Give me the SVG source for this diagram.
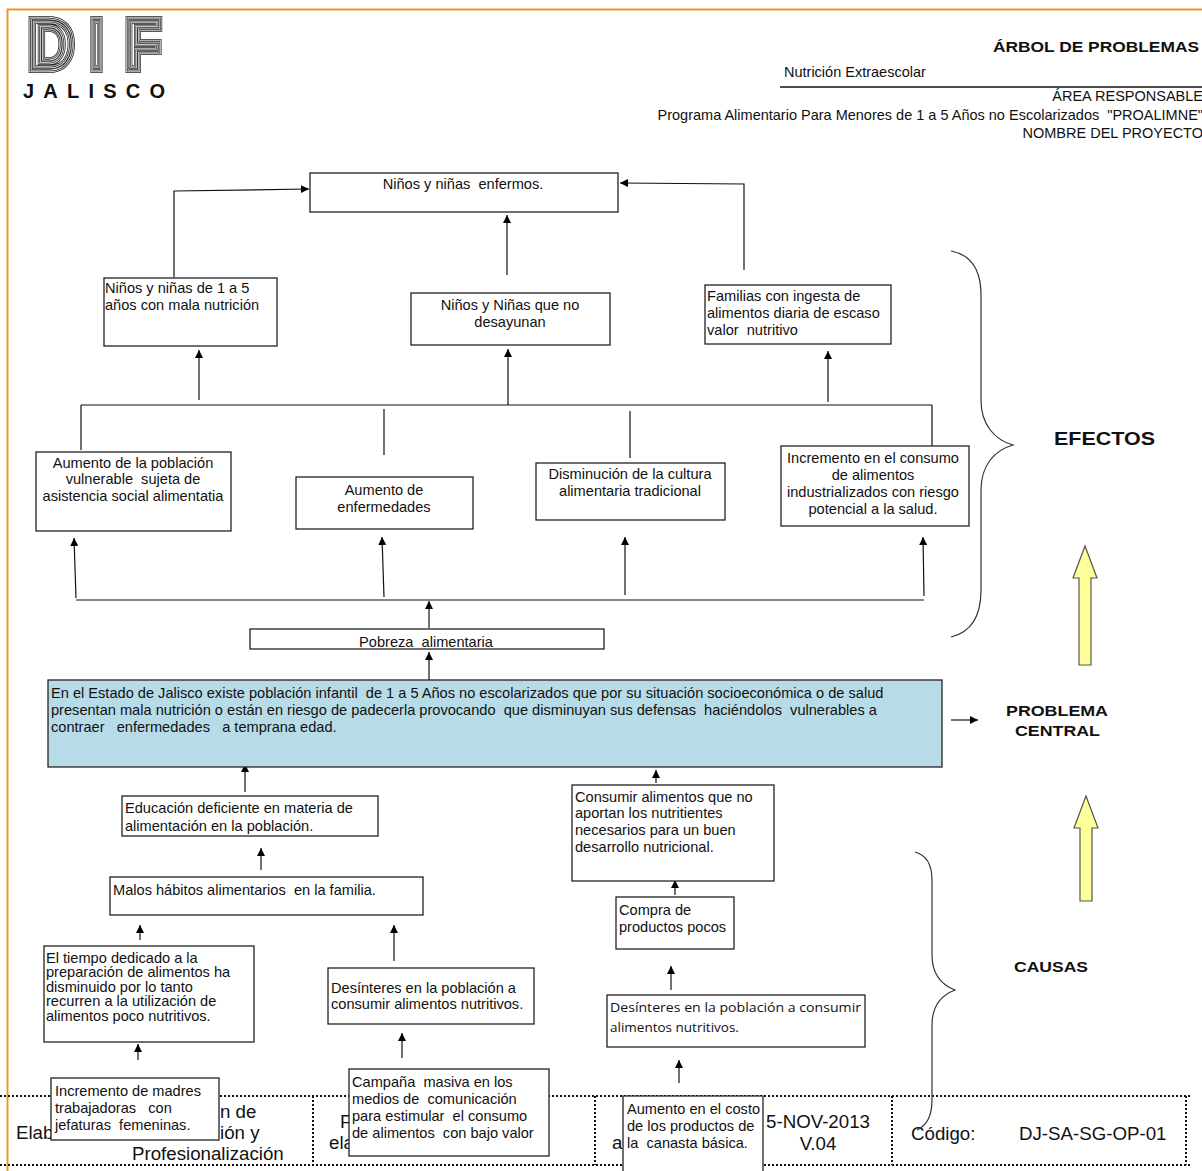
<svg xmlns="http://www.w3.org/2000/svg" width="1202" height="1171" viewBox="0 0 1202 1171">
<defs>
<marker id="ah" markerUnits="userSpaceOnUse" markerWidth="10" markerHeight="10" refX="8" refY="4" orient="auto"><path d="M0,0L8,4L0,8Z" fill="#000"/></marker>
</defs>
<style>
text{font-family:"Liberation Sans",Arial,sans-serif;fill:#111;white-space:pre}
.n{font-size:14.6px;transform:translateY(1px)}
.m{text-anchor:middle}
.b{fill:#fff;stroke:#222;stroke-width:1.3}
.c{fill:none;stroke:#111;stroke-width:1.2}
.a{marker-end:url(#ah)}
.h{font-size:14.5px}
.e{text-anchor:end}
.f{font-size:18.7px}
.t{font-weight:bold}
.d{fill:none;stroke:#111;stroke-width:2;stroke-dasharray:2 2}
.y{fill:#FFFF99;stroke:#555;stroke-width:1.2}
.br{fill:none;stroke:#333;stroke-width:1.2}
.l{font-size:70px;font-weight:bold;fill:none;stroke-linejoin:miter}
.l1{stroke:#222;stroke-width:8}
.l2{stroke:#ddd;stroke-width:6.4}
.l3{stroke:#222;stroke-width:4.6}
.l4{stroke:#eee;stroke-width:3}
.l5{stroke:#333;stroke-width:1.3}
.o{font-family:"Open Sans",sans-serif;font-size:13.5px}
</style>
<rect width="1202" height="1171" fill="#fff"/>
<g id="frame"><path d="M1202,9.5H7.5V1171" fill="none" stroke="#E59A24" stroke-width="2"/></g>
<g id="logo">
<text class="l l1" x="28" y="69" textLength="46" lengthAdjust="spacingAndGlyphs">D</text>
<text class="l l2" x="28" y="69" textLength="46" lengthAdjust="spacingAndGlyphs">D</text>
<text class="l l3" x="28" y="69" textLength="46" lengthAdjust="spacingAndGlyphs">D</text>
<text class="l l4" x="28" y="69" textLength="46" lengthAdjust="spacingAndGlyphs">D</text>
<text class="l l5" x="28" y="69" textLength="46" lengthAdjust="spacingAndGlyphs">D</text>
<text class="l l1" x="90" y="69" textLength="13" lengthAdjust="spacingAndGlyphs">I</text>
<text class="l l2" x="90" y="69" textLength="13" lengthAdjust="spacingAndGlyphs">I</text>
<text class="l l3" x="90" y="69" textLength="13" lengthAdjust="spacingAndGlyphs">I</text>
<text class="l l4" x="90" y="69" textLength="13" lengthAdjust="spacingAndGlyphs">I</text>
<text class="l l5" x="90" y="69" textLength="13" lengthAdjust="spacingAndGlyphs">I</text>
<text class="l l1" x="125" y="69" textLength="36" lengthAdjust="spacingAndGlyphs">F</text>
<text class="l l2" x="125" y="69" textLength="36" lengthAdjust="spacingAndGlyphs">F</text>
<text class="l l3" x="125" y="69" textLength="36" lengthAdjust="spacingAndGlyphs">F</text>
<text class="l l4" x="125" y="69" textLength="36" lengthAdjust="spacingAndGlyphs">F</text>
<text class="l l5" x="125" y="69" textLength="36" lengthAdjust="spacingAndGlyphs">F</text>
<text x="23" y="98" font-size="20" font-weight="bold" textLength="142">JALISCO</text>
</g>
<g id="header">
<text class="t" x="993" y="52" font-size="15" textLength="206" lengthAdjust="spacingAndGlyphs">ÁRBOL DE PROBLEMAS</text>
<text class="h" x="784" y="77">Nutrición Extraescolar</text>
<path d="M780,87H1202" stroke="#111" stroke-width="1.5"/>
<text class="h e" x="1203" y="101">ÁREA RESPONSABLE</text>
<text class="h e" x="1203" y="120">Programa Alimentario Para Menores de 1 a 5 Años no Escolarizados  "PROALIMNE"</text>
<text class="h e" x="1203" y="138">NOMBRE DEL PROYECTO</text>
</g>
<g id="footer">
<path class="d" d="M0,1096H1190M0,1165H1190M313,1096V1165M595,1096V1165M892,1096V1165M1186,1096V1165"/>
<text class="f" x="16" y="1139">Elab</text>
<text class="f" x="220" y="1118">n de</text>
<text class="f" x="220" y="1139">ión y</text>
<text class="f" x="132" y="1160">Profesionalización</text>
<text class="f" x="340" y="1128">F</text>
<text class="f" x="329" y="1149">ela</text>
<text class="f" x="612" y="1149">a</text>
<text class="f m" x="818" y="1128">5-NOV-2013</text>
<text class="f m" x="818" y="1150">V.04</text>
<text class="f" x="911" y="1140">Código:</text>
<text class="f" x="1019" y="1140">DJ-SA-SG-OP-01</text>
</g>
<g id="connectors">
<path class="c a" d="M174,277V191L309,189"/>
<path class="c a" d="M507,275V215"/>
<path class="c a" d="M744,270V184L620,183"/>
<path class="c a" d="M199,400V350"/>
<path class="c a" d="M508,405V349"/>
<path class="c a" d="M828,402V351"/>
<path class="c" d="M81,405H932M81,405V450M384,409V455M630,411V458M932,405V447"/>
<path class="c" d="M76,600H924"/>
<path class="c a" d="M76,598L74,538"/>
<path class="c a" d="M384,597L382,537"/>
<path class="c a" d="M625,595V537"/>
<path class="c a" d="M924,596L923,537"/>
<path class="c a" d="M429,628V601"/>
<path class="c a" d="M429,680V652"/>
<path class="c a" d="M245,792V764"/>
<path class="c a" d="M261,870V848"/>
<path class="c a" d="M656,783V770"/>
<path class="c a" d="M140,940V925"/>
<path class="c a" d="M394,961V925"/>
<path class="c a" d="M138,1060V1044"/>
<path class="c a" d="M402,1058V1033"/>
<path class="c a" d="M675,895V880"/>
<path class="c a" d="M671,990V966"/>
<path class="c a" d="M679,1083V1060"/>
<path class="c a" d="M951,720H978"/>
</g>
<g id="n-top"><rect class="b" x="310" y="173" width="308" height="39"/><text class="n m" x="463" y="188">Niños y niñas  enfermos.</text></g>
<g id="n-e1"><rect class="b" x="104" y="278" width="173" height="68"/><text class="n" x="105" y="292">Niños y niñas de 1 a 5</text><text class="n" x="105" y="309">años con mala nutrición</text></g>
<g id="n-e2"><rect class="b" x="411" y="293" width="199" height="52"/><text class="n m" x="510" y="309">Niños y Niñas que no</text><text class="n m" x="510" y="326">desayunan</text></g>
<g id="n-e3"><rect class="b" x="705" y="285" width="186" height="59"/><text class="n" x="707" y="300">Familias con ingesta de</text><text class="n" x="707" y="317">alimentos diaria de escaso</text><text class="n" x="707" y="334">valor  nutritivo</text></g>
<g id="n-a"><rect class="b" x="36" y="452" width="195" height="79"/><text class="n m" x="133" y="467">Aumento de la población</text><text class="n m" x="133" y="483">vulnerable  sujeta de</text><text class="n m" x="133" y="500">asistencia social alimentatia</text></g>
<g id="n-b"><rect class="b" x="296" y="477" width="177" height="52"/><text class="n m" x="384" y="494">Aumento de</text><text class="n m" x="384" y="511">enfermedades</text></g>
<g id="n-c"><rect class="b" x="536" y="463" width="189" height="57"/><text class="n m" x="630" y="478">Disminución de la cultura</text><text class="n m" x="630" y="495">alimentaria tradicional</text></g>
<g id="n-d"><rect class="b" x="781" y="446" width="188" height="80"/><text class="n m" x="873" y="462">Incremento en el consumo</text><text class="n m" x="873" y="479">de alimentos</text><text class="n m" x="873" y="496">industrializados con riesgo</text><text class="n m" x="873" y="513">potencial a la salud.</text></g>
<g id="n-pobreza"><rect class="b" x="250" y="629" width="354" height="20"/><text class="n m" x="426" y="646">Pobreza  alimentaria</text></g>
<g id="n-problema"><rect class="b" x="48" y="680" width="894" height="87" style="fill:#B7DCE8"/><text class="n" x="51" y="697">En el Estado de Jalisco existe población infantil  de 1 a 5 Años no escolarizados que por su situación socioeconómica o de salud</text><text class="n" x="51" y="714">presentan mala nutrición o están en riesgo de padecerla provocando  que disminuyan sus defensas  haciéndolos  vulnerables a</text><text class="n" x="51" y="731">contraer   enfermedades   a temprana edad.</text></g>
<g id="n-edu"><rect class="b" x="122" y="796" width="256" height="40"/><text class="n" x="125" y="812">Educación deficiente en materia de</text><text class="n" x="125" y="830">alimentación en la población.</text></g>
<g id="n-malos"><rect class="b" x="110" y="877" width="313" height="38"/><text class="n" x="113" y="894">Malos hábitos alimentarios  en la familia.</text></g>
<g id="n-tiempo"><rect class="b" x="44" y="946" width="210" height="96"/><text class="n" x="46" y="962">El tiempo dedicado a la</text><text class="n" x="46" y="976">preparación de alimentos ha</text><text class="n" x="46" y="991">disminuido por lo tanto</text><text class="n" x="46" y="1005">recurren a la utilización de</text><text class="n" x="46" y="1020">alimentos poco nutritivos.</text></g>
<g id="n-des1"><rect class="b" x="328" y="968" width="206" height="56"/><text class="n" x="331" y="992">Desínteres en la población a</text><text class="n" x="331" y="1008">consumir alimentos nutritivos.</text></g>
<g id="n-madres"><rect class="b" x="51" y="1078" width="168" height="62"/><text class="n" x="55" y="1095">Incremento de madres</text><text class="n" x="55" y="1112">trabajadoras   con</text><text class="n" x="55" y="1129">jefaturas  femeninas.</text></g>
<g id="n-campana"><rect class="b" x="349" y="1069" width="200" height="87"/><text class="n" x="352" y="1086">Campaña  masiva en los</text><text class="n" x="352" y="1103">medios de  comunicación</text><text class="n" x="352" y="1120">para estimular  el consumo</text><text class="n" x="352" y="1137">de alimentos  con bajo valor</text></g>
<g id="n-consumir"><rect class="b" x="572" y="785" width="202" height="96"/><text class="n" x="575" y="801">Consumir alimentos que no</text><text class="n" x="575" y="817">aportan los nutritientes</text><text class="n" x="575" y="834">necesarios para un buen</text><text class="n" x="575" y="851">desarrollo nutricional.</text></g>
<g id="n-compra"><rect class="b" x="616" y="897" width="118" height="52"/><text class="n" x="619" y="914">Compra de</text><text class="n" x="619" y="931">productos pocos</text></g>
<g id="n-des2"><rect class="b" x="607" y="995" width="258" height="52"/><text class="o" x="610" y="1012" textLength="251" lengthAdjust="spacingAndGlyphs">Desínteres en la población a consumir</text><text class="o" x="610" y="1032">alimentos nutritivos.</text></g>
<g id="n-aumento"><rect class="b" x="623" y="1096" width="140" height="80"/><text class="n" x="627" y="1113">Aumento en el costo</text><text class="n" x="627" y="1130">de los productos de</text><text class="n" x="627" y="1147">la  canasta básica.</text></g>
<g id="side">
<path class="br" d="M951,251C972,255 981,270 981,295V400C981,425 995,440 1013,445C995,450 981,465 981,490V590C981,615 972,632 951,637"/>
<path class="br" d="M915,852C926,855 932,865 932,880V955C932,975 942,985 955,990C942,995 932,1005 932,1025V1100C932,1115 928,1125 917,1130"/>
<polygon class="y" points="1079,665 1079,578 1073,578 1085,546 1097,578 1091,578 1091,665"/>
<polygon class="y" points="1080,901 1080,828 1074,828 1086,796 1098,828 1092,828 1092,901"/>
<text class="t" x="1054" y="445" font-size="19" textLength="101" lengthAdjust="spacingAndGlyphs">EFECTOS</text>
<text class="t" x="1006" y="716" font-size="15.5" textLength="102" lengthAdjust="spacingAndGlyphs">PROBLEMA</text>
<text class="t" x="1015" y="736" font-size="15.5" textLength="85" lengthAdjust="spacingAndGlyphs">CENTRAL</text>
<text class="t" x="1014" y="972" font-size="15.5" textLength="74" lengthAdjust="spacingAndGlyphs">CAUSAS</text>
</g>
</svg>
